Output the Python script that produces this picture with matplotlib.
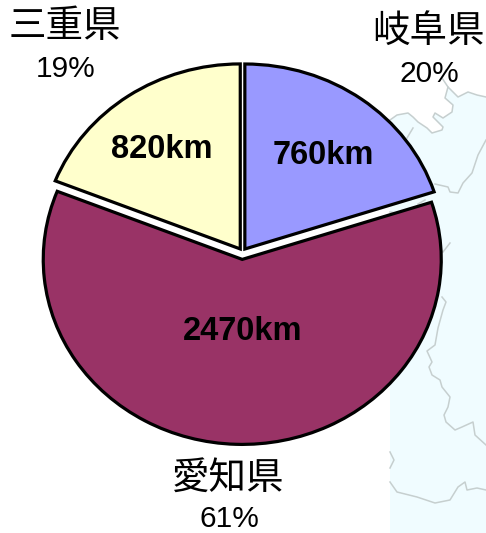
import matplotlib
matplotlib.use("Agg")
import matplotlib.pyplot as plt
from matplotlib.patches import Polygon

plt.rcParams['font.family'] = ['Noto Sans CJK JP', 'DejaVu Sans']

# chart data (clockwise from 12 o'clock)
prefectures = ['岐阜県', '愛知県', '三重県']
shares = [20, 61, 19]
share_labels = ['20%', '61%', '19%']
km_labels = ['760km', '2470km', '820km']
colors = ['#9999FF', '#993366', '#FFFFCC']
explode = [0.02, 0.04, 0.02]

W, H = 486, 533
fig = plt.figure(figsize=(W / 100, H / 100), dpi=100, facecolor='white')

# pixel-space background layer: faint map behind the chart
bg = fig.add_axes([0, 0, 1, 1], zorder=0)
bg.set_xlim(0, W)
bg.set_ylim(H, 0)
bg.axis('off')

coast = [(486, 97), (477, 95), (468, 92), (458, 97), (448, 87), (445, 98), (453, 105),
         (452, 112), (443, 118), (435, 113), (433, 117), (443, 127), (442, 130), (432, 133),
         (427, 128), (418, 122), (413, 117), (408, 113), (397, 115), (390, 120)]
bg.add_patch(Polygon(coast + [(390, 533), (486, 533)], closed=True, fc='#F0FCFF', ec='none'))
map_lines = [
    coast,
    [(448, 87), (442, 78), (446, 70)],
    [(486, 140), (478, 155), (472, 173), (463, 183), (458, 193), (450, 192), (448, 187), (435, 184)],
    [(442, 297), (446, 302), (443, 310), (438, 328), (435, 345), (427, 351), (432, 362), (429, 367),
     (432, 375), (440, 380), (442, 387), (450, 397), (448, 407), (444, 415), (446, 422), (455, 430),
     (462, 427), (473, 422), (475, 435), (486, 445)],
    [(390, 482), (397, 492), (417, 497), (435, 503), (450, 500), (458, 487), (465, 482), (467, 490),
     (477, 488), (486, 490)],
    [(390, 452), (394, 460), (390, 468)],
    [(450, 243), (443, 252)],
    [(425, 200), (418, 204)],
    [(390, 212), (397, 213)],
    [(413, 128), (407, 138)],
]
for seg in map_lines:
    bg.plot([p[0] for p in seg], [p[1] for p in seg], color='#C6CFCF', lw=1.1, solid_joinstyle='round')

# the pie is drawn slightly squashed, as in the reference
ax = fig.add_axes([0, 0, 1, 1], zorder=1)
ax.patch.set_alpha(0)
ax.pie(shares, colors=colors, explode=explode, startangle=90, counterclock=False,
       wedgeprops=dict(edgecolor='black', linewidth=2.3, joinstyle='miter'))
ax.set_aspect('auto')
RX, RY = 199, 185
CX, CY = 242.5, 252
ax.set_xlim(-CX / RX, (W - CX) / RX)
ax.set_ylim(-(H - CY) / RY, CY / RY)
ax.axis('off')

# text layer
tx = fig.add_axes([0, 0, 1, 1], zorder=2)
tx.set_xlim(0, W)
tx.set_ylim(H, 0)
tx.axis('off')
name_pos = [(428, 31), (228, 478), (65, 26)]
share_pos = [(429, 74), (229, 519), (66, 69)]
km_pos = [(323, 156), (243, 331), (162, 150)]
for i in range(3):
    tx.text(*name_pos[i], prefectures[i], fontsize=27, ha='center', va='center')
    tx.text(*share_pos[i], share_labels[i], fontsize=21.5, ha='center', va='center', family='Liberation Sans')
    tx.text(*km_pos[i], km_labels[i], fontsize=23.5, ha='center', va='center', family='Liberation Sans',
            fontweight='bold')

fig.savefig('out.png', dpi=100)
